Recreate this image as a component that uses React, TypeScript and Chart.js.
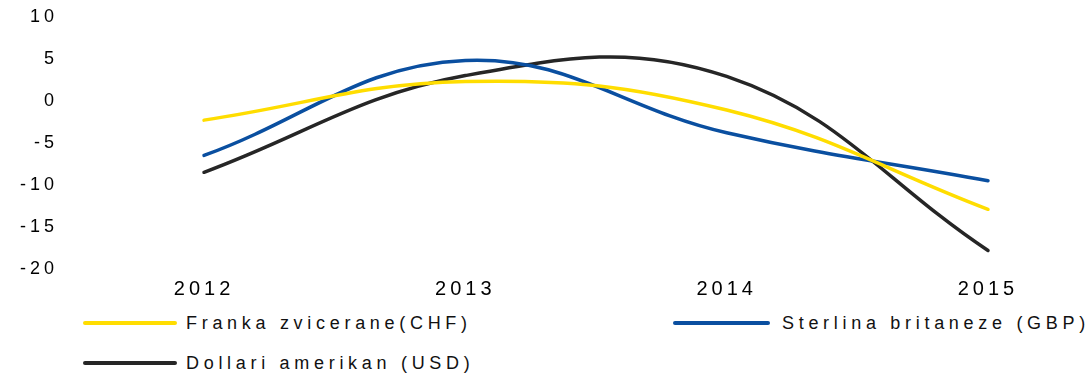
import React, { useEffect, useRef } from "react";
import { Chart, registerables } from "chart.js";

Chart.register(...registerables);

const years = [2012, 2013, 2014, 2015];
const yearTicks = ["2012", "2013", "2014", "2015"];
const chfValues = [-2.3, 2.3, -1.1, -12.9];
const gbpValues = [-6.5, 4.8, -3.8, -9.5];
const usdValues = [-8.5, 3.0, 2.9, -17.8];
const seriesNames = ["Franka zvicerane(CHF)", "Sterlina britaneze (GBP)", "Dollari amerikan (USD)"];
const seriesColors = ["#FFDD00", "#0A4FA0", "#262626"];

const FONT = "'Liberation Sans', Arial, sans-serif";

const spacingPlugin = {
  id: "letterSpacing",
  beforeInit(chart: any) {
    (chart.ctx as any).letterSpacing = "4px";
  },
  beforeUpdate(chart: any) {
    (chart.ctx as any).letterSpacing = "4px";
  },
  beforeDraw(chart: any) {
    (chart.ctx as any).letterSpacing = "4px";
  },
};

export default function App() {
  const ref = useRef<HTMLCanvasElement | null>(null);

  useEffect(() => {
    if (!ref.current) return;
    const toPts = (vals: number[]) => years.map((y, i) => ({ x: y, y: vals[i] }));
    const allValues = [chfValues, gbpValues, usdValues];
    const chart = new Chart(ref.current, {
      type: "line",
      data: {
        datasets: allValues.map((vals, i) => ({
          label: seriesNames[i],
          data: toPts(vals),
          borderColor: seriesColors[i],
          backgroundColor: seriesColors[i],
          borderWidth: 3.5,
          borderCapStyle: "round",
          pointRadius: 0,
          tension: 0.4,
          fill: false,
        })),
      },
      options: {
        animation: false,
        responsive: false,
        maintainAspectRatio: false,
        layout: { padding: { top: 16.7, bottom: 1.4, left: 0, right: 0 } },
        plugins: {
          legend: { display: false },
          tooltip: { enabled: false },
        },
        scales: {
          x: {
            type: "linear",
            min: 2011.4527,
            max: 2015.3865,
            afterBuildTicks: (scale: any) => {
              scale.ticks = years.map((v) => ({ value: v }));
            },
            grid: { display: false, drawTicks: false },
            border: { display: false },
            ticks: {
              padding: 8.8,
              color: "#000",
              font: { family: FONT, size: 20 },
              callback: (v: any) => yearTicks[years.indexOf(Number(v))] ?? "",
              maxRotation: 0,
            },
          },
          y: {
            min: -20,
            max: 10,
            afterFit: (scale: any) => {
              scale.width = 61;
            },
            grid: { display: false, drawTicks: false },
            border: { display: false },
            ticks: {
              stepSize: 5,
              padding: 3,
              color: "#000",
              font: { family: FONT, size: 18 },
            },
          },
        },
      },
      plugins: [spacingPlugin],
    } as any);
    return () => chart.destroy();
  }, []);

  const legendItems = [
    { idx: 0, lineX: 83, lineW: 94, y: 323, textX: 186 },
    { idx: 1, lineX: 673, lineW: 97, y: 323, textX: 782 },
    { idx: 2, lineX: 83, lineW: 94, y: 362.5, textX: 186 },
  ];

  return (
    <div style={{ position: "absolute", left: 0, top: 0, width: 1089, height: 375, background: "#fff" }}>
      <canvas ref={ref} width={1089} height={312} style={{ position: "absolute", left: 0, top: 0, width: 1089, height: 312 }} />
      {legendItems.map((it) => (
        <React.Fragment key={it.idx}>
          <div
            style={{
              position: "absolute",
              left: it.lineX,
              top: it.y - 2,
              width: it.lineW,
              height: 4,
              borderRadius: 2,
              background: seriesColors[it.idx],
            }}
          />
          <div
            style={{
              position: "absolute",
              left: it.textX,
              top: it.y - 11,
              height: 22,
              lineHeight: "22px",
              fontFamily: FONT,
              fontSize: 18,
              letterSpacing: "4.7px",
              color: "#111",
              whiteSpace: "nowrap",
            }}
          >
            {seriesNames[it.idx]}
          </div>
        </React.Fragment>
      ))}
    </div>
  );
}
